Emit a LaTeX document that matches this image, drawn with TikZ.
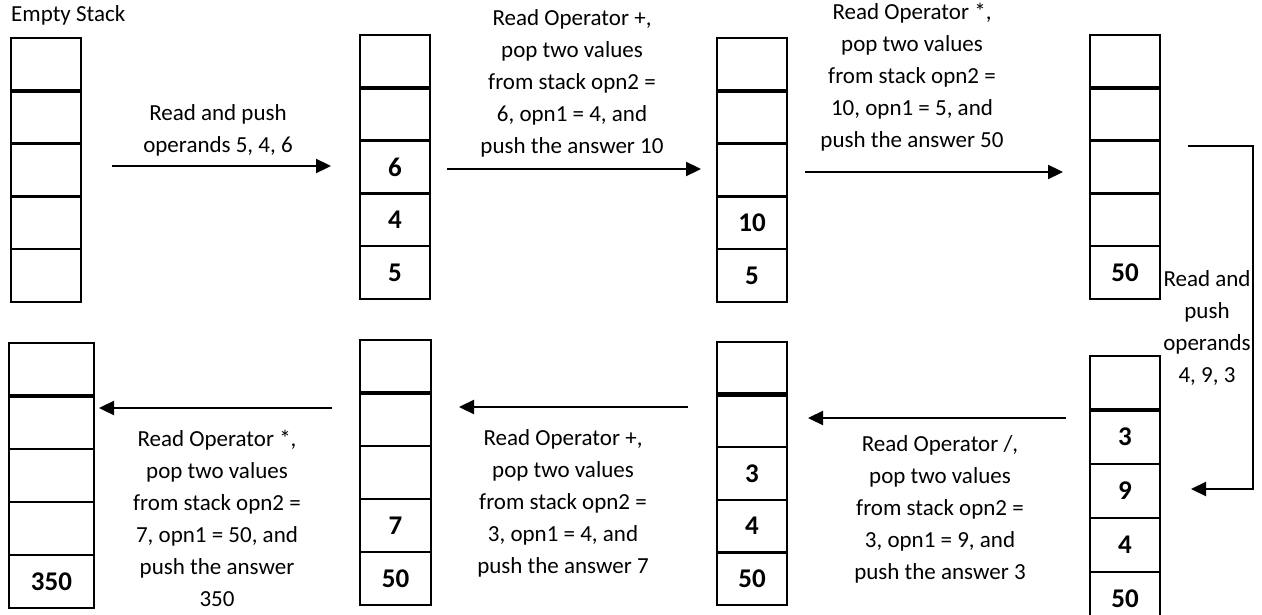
\documentclass[tikz,border=0pt]{standalone}
\usepackage{fontspec}
\setmainfont{Carlito}
\usetikzlibrary{arrows.meta}

\tikzset{
  cell/.style={draw, line width=2.5pt, inner sep=0pt, outer sep=0pt,
    font=\fontsize{27}{30}\selectfont\bfseries},
  divider/.style={line width=4.3pt},
  flow/.style={line width=2.3pt, -{Triangle[length=15pt,width=14pt]}},
  note/.style={align=center, inner sep=0pt, font=\fontsize{23}{32}\selectfont},
}

% #1 name, #2 left x, #3 top y, #4 width, #5 cell height, #6 cell labels (top to bottom)
\newcommand\stackcells[6]{%
  \foreach \val [count=\k from 0] in {#6} {
    \node[cell, minimum width=#4pt, minimum height=#5pt, anchor=north west]
      (#1-\k) at (#2,{#3+\k*#5}) {\val};
  }
  \draw[divider] (#1-0.south west) -- (#1-0.south east);
}

\begin{document}
\begin{tikzpicture}[x=1pt,y=-1pt]
  \path[use as bounding box] (0,0) rectangle (1262,615);
  \clip (0,0) rectangle (1262,615);

  % top row of stacks
  \stackcells{s1}{11}{38}{70}{52.8}{{},{},{},{},{}}
  \stackcells{s2}{360}{35}{70}{52.8}{{},{},6,4,5}
  \stackcells{s3}{717}{38}{70}{52.8}{{},{},{},10,5}
  \stackcells{s4}{1090}{35}{70}{52.8}{{},{},{},{},50}

  % bottom row of stacks
  \stackcells{s5}{9}{343}{85}{53}{{},{},{},{},350}
  \stackcells{s6}{360}{340}{71}{53}{{},{},{},7,50}
  \stackcells{s7}{717}{342}{70}{52.6}{{},{},3,4,50}
  \stackcells{s8}{1090}{356}{70}{54}{{},3,9,4,50}

  \node[note, anchor=west] (t0) at (11,15) {Empty Stack};

  % step descriptions
  \node[note] (t1) at (218,130) {Read and push\\operands 5, 4, 6};
  \node[note] (t2) at (572,83) {Read Operator +,\\pop two values\\from stack opn2 =\\6, opn1 = 4, and\\push the answer 10};
  \node[note] (t3) at (912,77) {Read Operator *,\\pop two values\\from stack opn2 =\\10, opn1 = 5, and\\push the answer 50};
  \node[note] (t4) at (1207,328) {Read and\\push\\operands\\4, 9, 3};
  \node[note] (t5) at (940,509) {Read Operator /,\\pop two values\\from stack opn2 =\\3, opn1 = 9, and\\push the answer 3};
  \node[note] (t6) at (563,503) {Read Operator +,\\pop two values\\from stack opn2 =\\3, opn1 = 4, and\\push the answer 7};
  \node[note] (t7) at (217,518) {Read Operator *,\\pop two values\\from stack opn2 =\\7, opn1 = 50, and\\push the answer\\350};

  % transitions between stacks
  \draw[flow, shorten <=31pt, shorten >=29pt] (s1-2.east |- 0,166) -- (s2-2.west |- 0,166);
  \draw[flow, shorten <=17pt, shorten >=16pt] (s2-2.east |- 0,169) -- (s3-2.west |- 0,169);
  \draw[flow, shorten <=18pt, shorten >=27pt] (s3-2.east |- 0,172) -- (s4-2.west |- 0,172);
  \draw[flow, shorten <=28pt, shorten >=31pt] (s4-2.east |- 0,146) -- (1253,146) -- (1253,489) -- (s8-2.east |- 0,489);
  \draw[flow, shorten <=24pt, shorten >=21pt] (s8-1.west |- 0,418) -- (s7-1.east |- 0,418);
  \draw[flow, shorten <=29pt, shorten >=28pt] (s7-1.west |- 0,407) -- (s6-1.east |- 0,407);
  \draw[flow, shorten <=28pt, shorten >=5pt] (s6-1.west |- 0,408) -- (s5-1.east |- 0,408);
\end{tikzpicture}
\end{document}
